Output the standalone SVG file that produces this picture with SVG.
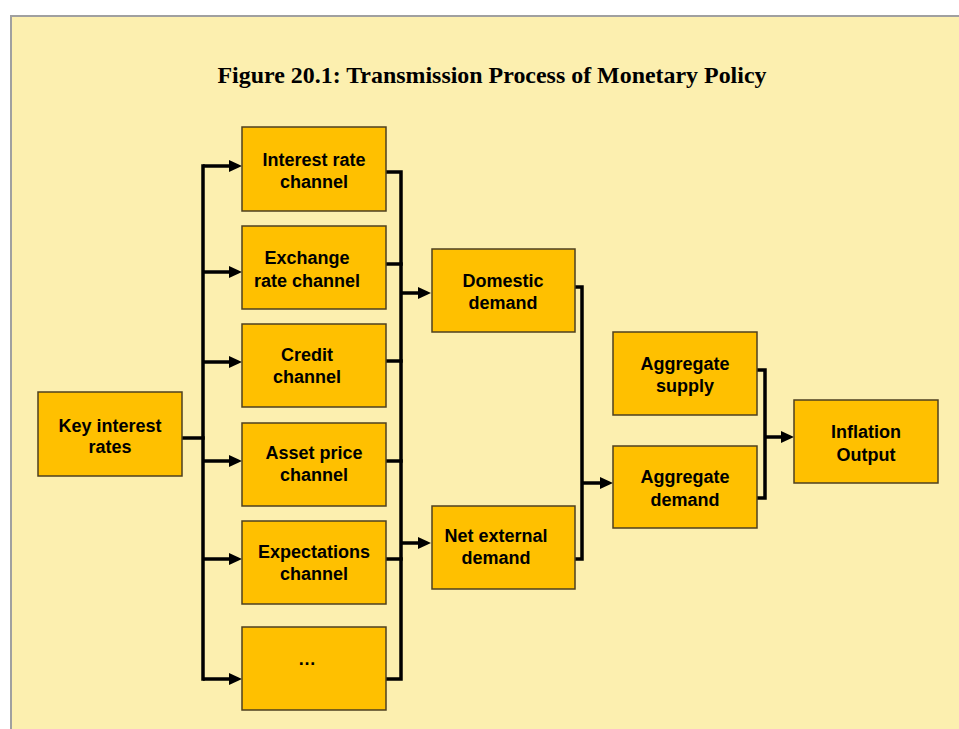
<svg xmlns="http://www.w3.org/2000/svg" width="959" height="729" viewBox="0 0 959 729">
<style>
.box{fill:#FFC000;stroke:#4d4020;stroke-width:1.5}
.lbl{font-family:"Liberation Sans",Arial,sans-serif;font-weight:bold;font-size:18px;fill:#000;text-anchor:middle}
.ln{fill:none;stroke:#000;stroke-width:3.5;stroke-linecap:square;stroke-linejoin:miter}
.ar{fill:none;stroke:#000;stroke-width:3.5;stroke-linecap:butt;marker-end:url(#ah)}
</style>
<defs>
<marker id="ah" markerUnits="userSpaceOnUse" viewBox="0 0 13 12" markerWidth="13" markerHeight="12" refX="8" refY="6" orient="auto">
<path d="M0,0 L13,6 L0,12 z" fill="#000"/>
</marker>
</defs>
<rect x="0" y="0" width="959" height="729" fill="#ffffff"/>
<rect x="11" y="16" width="960" height="730" fill="#FCEFAF" stroke="#A0A0A0" stroke-width="2"/>
<text x="492" y="83" font-family="'Liberation Serif','Times New Roman',serif" font-weight="bold" font-size="23" textLength="549" lengthAdjust="spacingAndGlyphs" text-anchor="middle">Figure 20.1: Transmission Process of Monetary Policy</text>

<g id="connectors">
<path class="ln" d="M182 438 H203"/>
<path class="ln" d="M203 166 V679"/>
<path class="ar" d="M203 166 H237"/>
<path class="ar" d="M203 272 H237"/>
<path class="ar" d="M203 362 H237"/>
<path class="ar" d="M203 461 H237"/>
<path class="ar" d="M203 559 H237"/>
<path class="ar" d="M203 679 H237"/>
<path class="ln" d="M387 172 H401 V679 H387"/>
<path class="ln" d="M387 264 H401"/>
<path class="ln" d="M387 361 H401"/>
<path class="ln" d="M387 461 H401"/>
<path class="ln" d="M387 559 H401"/>
<path class="ar" d="M401 293 H426"/>
<path class="ar" d="M401 543 H426"/>
<path class="ln" d="M576 287 H582 V559 H576"/>
<path class="ar" d="M582 483 H608"/>
<path class="ln" d="M758 370 H765 V498 H758"/>
<path class="ar" d="M765 437 H789"/>
</g>

<g id="key">
<rect class="box" x="38" y="392" width="144" height="84"/>
<text class="lbl" x="110" y="432">Key interest</text>
<text class="lbl" x="110" y="453">rates</text>
</g>
<g id="interest">
<rect class="box" x="242" y="127" width="144" height="84"/>
<text class="lbl" x="314" y="166">Interest rate</text>
<text class="lbl" x="314" y="188">channel</text>
</g>
<g id="exchange">
<rect class="box" x="242" y="226" width="144" height="83"/>
<text class="lbl" x="307" y="264">Exchange</text>
<text class="lbl" x="307" y="287">rate channel</text>
</g>
<g id="credit">
<rect class="box" x="242" y="324" width="144" height="83"/>
<text class="lbl" x="307" y="361">Credit</text>
<text class="lbl" x="307" y="383">channel</text>
</g>
<g id="asset">
<rect class="box" x="242" y="423" width="144" height="83"/>
<text class="lbl" x="314" y="459">Asset price</text>
<text class="lbl" x="314" y="481">channel</text>
</g>
<g id="expectations">
<rect class="box" x="242" y="521" width="144" height="83"/>
<text class="lbl" x="314" y="558">Expectations</text>
<text class="lbl" x="314" y="580">channel</text>
</g>
<g id="more">
<rect class="box" x="242" y="627" width="144" height="83"/>
<text class="lbl" x="307" y="665">…</text>
</g>
<g id="domestic">
<rect class="box" x="432" y="249" width="143" height="83"/>
<text class="lbl" x="503" y="287">Domestic</text>
<text class="lbl" x="503" y="309">demand</text>
</g>
<g id="external">
<rect class="box" x="432" y="506" width="143" height="83"/>
<text class="lbl" x="496" y="542">Net external</text>
<text class="lbl" x="496" y="564">demand</text>
</g>
<g id="supply">
<rect class="box" x="613" y="332" width="144" height="83"/>
<text class="lbl" x="685" y="370">Aggregate</text>
<text class="lbl" x="685" y="392">supply</text>
</g>
<g id="demand">
<rect class="box" x="613" y="446" width="144" height="82"/>
<text class="lbl" x="685" y="483">Aggregate</text>
<text class="lbl" x="685" y="506">demand</text>
</g>
<g id="inflation">
<rect class="box" x="794" y="400" width="144" height="83"/>
<text class="lbl" x="866" y="438">Inflation</text>
<text class="lbl" x="866" y="461">Output</text>
</g>
</svg>
